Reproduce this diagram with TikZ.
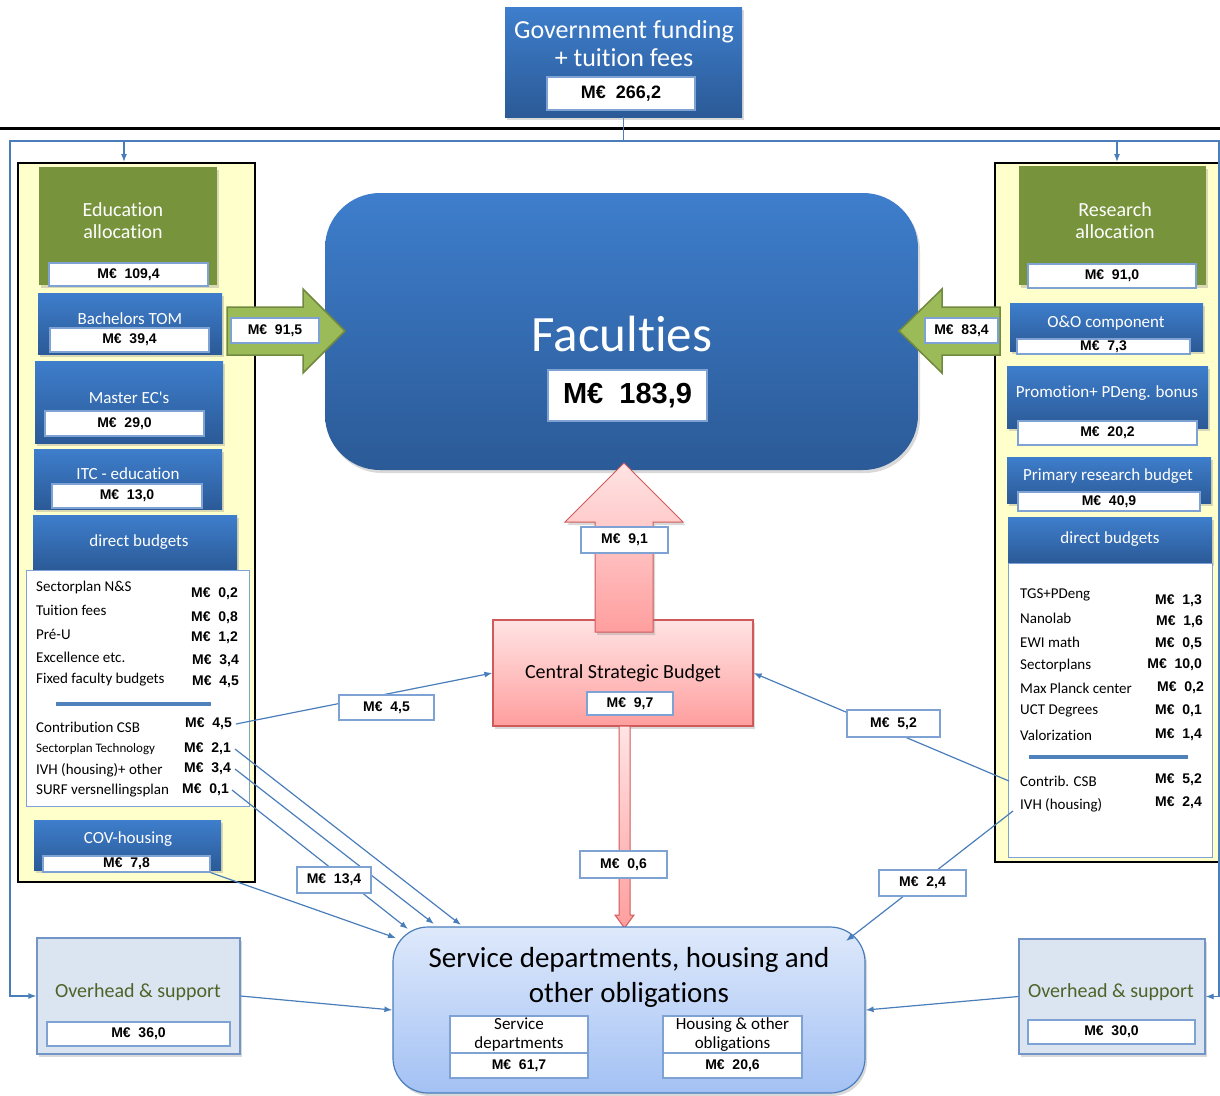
\documentclass[tikz,border=0pt]{standalone}
\usepackage{fontspec}
\setmainfont{Carlito}[Ligatures={NoCommon,NoContextual,TeXOff}]
\newfontfamily\arialfont{Liberation Sans}
\usepackage{tikz}
\usetikzlibrary{arrows.meta,shadows}

\definecolor{blueT}{HTML}{3E7ECC}
\definecolor{blueB}{HTML}{2B5A97}
\definecolor{eduGreen}{HTML}{77933C}
\definecolor{arrGreen}{HTML}{9BBB59}
\definecolor{arrGreenD}{HTML}{71893F}
\definecolor{paleYellow}{HTML}{FFFFCC}
\definecolor{linkBlue}{HTML}{4A7EBB}
\definecolor{valLine}{HTML}{7FA2D4}
\definecolor{ohFill}{HTML}{DBE5F1}
\definecolor{ohLine}{HTML}{7394C6}
\definecolor{ohText}{HTML}{4F6228}
\definecolor{servT}{HTML}{DEE9FB}
\definecolor{servB}{HTML}{A3C1F4}
\definecolor{csbT}{HTML}{FFE4E4}
\definecolor{csbB}{HTML}{FF9E9E}
\definecolor{csbLine}{HTML}{D05A5A}
\definecolor{sepBlue}{HTML}{4F81BD}

\newcommand{\meur}[1]{M€~~#1}
\newcommand{\fs}[2]{\fontsize{#1}{#2}\selectfont}

\begin{document}
\begin{tikzpicture}[x=1pt, y=-1pt,
  shade/.style={drop shadow={opacity=0.3, shadow xshift=2pt, shadow yshift=-3pt}},
  bluebox/.style={top color=blueT, bottom color=blueB, draw=none, inner sep=0pt, shade},
  greenbox/.style={fill=eduGreen, draw=none, inner sep=0pt, shade},
  ybox/.style={fill=paleYellow, draw=black, line width=2pt, inner sep=0pt},
  listbox/.style={fill=white, draw=valLine, line width=1pt, inner sep=0pt},
  valbox/.style={fill=white, draw=valLine, line width=1.2pt, inner sep=0pt,
    font=\arialfont\bfseries\fs{14}{16}},
  subbox/.style={fill=white, draw=valLine, line width=1.2pt, inner sep=0pt,
    align=center, font=\fs{17}{19}},
  boxtitle/.style={text=white, align=center, inner sep=0pt, font=\fs{17}{19}},
  listitem/.style={anchor=west, inner sep=0pt, font=\fs{15}{17}},
  listval/.style={anchor=east, inner sep=0pt, font=\arialfont\bfseries\fs{14}{16}},
  sepline/.style={draw=sepBlue, line width=4pt},
  link/.style={draw=linkBlue, line width=1.2pt, -{Latex[length=8pt,width=6pt]}},
  ohbox/.style={fill=ohFill, draw=ohLine, line width=1.2pt, inner sep=0pt, shade},
  ohtitle/.style={text=ohText, inner sep=0pt, font=\fs{20}{22}}]
  \clip (0,0) rectangle (1220,1095);
  % rule under the funding block
  \draw[black, line width=3pt] (0,128) -- (1220,128);

  % funding source
  \node[bluebox, minimum width=237pt, minimum height=110pt] (gov) at (623.5,62) {};
  \node[boxtitle, font=\fs{26}{28}] (govtxt) at (624,44) {Government funding\\+ tuition fees};
  \node[valbox, minimum width=148pt, minimum height=33pt,
    font=\arialfont\bfseries\fs{18}{20}] (govval) at (621,93.5) {\meur{266,2}};

  % yellow columns
  \node[ybox, minimum width=237pt, minimum height=719pt] (lcol) at (136.5,522.5) {};
  \node[ybox, minimum width=240pt, minimum height=699pt] (rcol) at (1115,512.5) {};

  % funding split: left/right columns and the two overhead blocks
  \coordinate (lsplit) at (124,141);
  \coordinate (rsplit) at (1117,141);

  % ---- education column ----
  \node[greenbox, minimum width=178pt, minimum height=118pt] (edu) at (128,226) {};
  \node[boxtitle, font=\fs{20}{22}] (edutxt) at (123,221) {Education\\allocation};
  \node[valbox, minimum width=159pt, minimum height=23pt] (eduval) at (128.5,274.5) {\meur{109,4}};
  \node[bluebox, minimum width=184pt, minimum height=61pt] (bach) at (130,323.5) {};
  \node[boxtitle] (bachtxt) at (130,319) {Bachelors TOM};
  \node[valbox, minimum width=159pt, minimum height=24pt] (bachval) at (129.5,340) {\meur{39,4}};
  \node[bluebox, minimum width=188pt, minimum height=82pt] (mast) at (129,402) {};
  \node[boxtitle] (masttxt) at (129,398) {Master EC's};
  \node[valbox, minimum width=159pt, minimum height=25pt] (mastval) at (124.5,423.5) {\meur{29,0}};
  \node[bluebox, minimum width=188pt, minimum height=60pt] (itc) at (128,479) {};
  \node[boxtitle] (itctxt) at (128,474) {ITC - education};
  \node[valbox, minimum width=150pt, minimum height=24pt] (itcval) at (127,496) {\meur{13,0}};
  \node[bluebox, minimum width=204pt, minimum height=55pt] (ldir) at (135,542.5) {};
  \node[boxtitle] (ldirtxt) at (139,542) {direct budgets};
  \node[listbox, minimum width=223pt, minimum height=236pt] (llist) at (137.5,688) {};
  \node[listitem] (lsecttxt) at (36,587) {Sectorplan N\&S};
  \node[listval] (lsect) at (238,594) {\meur{0,2}};
  \node[listitem] (ltuittxt) at (36,610) {Tuition fees};
  \node[listval] (ltuit) at (238,618) {\meur{0,8}};
  \node[listitem] (lpreutxt) at (36,634) {Pré-U};
  \node[listval] (lpreu) at (238,638) {\meur{1,2}};
  \node[listitem] (lexctxt) at (36,657) {Excellence etc.};
  \node[listval] (lexc) at (239,661) {\meur{3,4}};
  \node[listitem] (lfixtxt) at (36,680) {Fixed faculty budgets};
  \node[listval] (lfix) at (239,682) {\meur{4,5}};
  \draw[sepline] (56,704) -- (211,704);
  \node[listitem] (lcsbtxt) at (36,727) {Contribution CSB};
  \node[listval] (lcsb) at (232,724) {\meur{4,5}};
  \node[listitem, font=\fs{13}{15}] (lstechtxt) at (36,749) {Sectorplan Technology};
  \node[listval] (lstech) at (231,749) {\meur{2,1}};
  \node[listitem] (livhtxt) at (36,770) {IVH (housing)+ other};
  \node[listval] (livh) at (231,769) {\meur{3,4}};
  \node[listitem] (lsurftxt) at (36,791) {SURF versnellingsplan};
  \node[listval] (lsurf) at (229,790) {\meur{0,1}};
  \node[bluebox, minimum width=187pt, minimum height=50pt] (cov) at (127.5,845) {};
  \node[boxtitle] (covtxt) at (128,839) {COV-housing};
  \node[valbox, minimum width=167pt, minimum height=16pt] (covval) at (126.5,864) {\meur{7,8}};

  % ---- research column ----
  \node[greenbox, minimum width=187pt, minimum height=119pt] (res) at (1112.5,225.5) {};
  \node[boxtitle, font=\fs{20}{22}] (restxt) at (1115,221) {Research\\allocation};
  \node[valbox, minimum width=168pt, minimum height=24pt] (resval) at (1112,276) {\meur{91,0}};
  \node[bluebox, minimum width=193pt, minimum height=48pt] (oo) at (1106.5,327) {};
  \node[boxtitle] (ootxt) at (1106,323) {O\&O component};
  \node[valbox, minimum width=173pt, minimum height=15pt] (ooval) at (1103.5,346.5) {\meur{7,3}};
  \node[bluebox, minimum width=201pt, minimum height=62pt] (prom) at (1107.5,397) {};
  \node[boxtitle] (promtxt) at (1107,393) {Promotion+ PDeng. bonus};
  \node[valbox, minimum width=179pt, minimum height=24pt] (promval) at (1107.5,433) {\meur{20,2}};
  \node[bluebox, minimum width=204pt, minimum height=46pt] (prim) at (1109,480) {};
  \node[boxtitle] (primtxt) at (1108,476) {Primary research budget};
  \node[valbox, minimum width=182pt, minimum height=19pt] (primval) at (1109,501.5) {\meur{40,9}};
  \node[bluebox, minimum width=204pt, minimum height=46pt] (rdir) at (1110,540) {};
  \node[boxtitle] (rdirtxt) at (1110,539) {direct budgets};
  \node[listbox, minimum width=204pt, minimum height=294pt] (rlist) at (1110,710) {};
  \node[listitem] (rtgstxt) at (1020,595) {TGS+PDeng};
  \node[listval] (rtgs) at (1202,601) {\meur{1,3}};
  \node[listitem] (rnanotxt) at (1020,618) {Nanolab};
  \node[listval] (rnano) at (1203,622) {\meur{1,6}};
  \node[listitem] (rewitxt) at (1020,642) {EWI math};
  \node[listval] (rewi) at (1202,644) {\meur{0,5}};
  \node[listitem] (rsecttxt) at (1020,665) {Sectorplans};
  \node[listval] (rsect) at (1202,665) {\meur{10,0}};
  \node[listitem] (rmaxtxt) at (1020,688) {Max Planck center};
  \node[listval] (rmax) at (1204,688) {\meur{0,2}};
  \node[listitem] (ructtxt) at (1020,711) {UCT Degrees};
  \node[listval] (ruct) at (1202,711) {\meur{0,1}};
  \node[listitem] (rvaltxt) at (1020,735) {Valorization};
  \node[listval] (rval) at (1202,735) {\meur{1,4}};
  \draw[sepline] (1029,757) -- (1188,757);
  \node[listitem] (rcsbtxt) at (1020,781) {Contrib. CSB};
  \node[listval] (rcsb) at (1202,780) {\meur{5,2}};
  \node[listitem] (rivhtxt) at (1020,805) {IVH (housing)};
  \node[listval] (rivh) at (1202,803) {\meur{2,4}};

  % ---- faculties ----
  \node[bluebox, rounded corners=55pt, minimum width=593pt, minimum height=277pt] (fac) at (621.5,331.5) {};
  \node[boxtitle, font=\fs{51}{55}] (factxt) at (622,334) {Faculties};
  \node[valbox, minimum width=159pt, minimum height=51pt,
    font=\arialfont\bfseries\fs{29}{31}] (facval) at (627.5,395.5) {\meur{183,9}};

  % green arrows into the faculties
  \draw[fill=arrGreen, draw=arrGreenD, line width=1.5pt]
    (227,307) -- (303,307) -- (303,289) -- (345,331) -- (303,373) -- (303,355) -- (227,355) -- cycle;
  \draw[fill=arrGreen, draw=arrGreenD, line width=1.5pt]
    (1000,307) -- (942,307) -- (942,289) -- (899,331) -- (942,373) -- (942,355) -- (1000,355) -- cycle;
  \node[valbox, minimum width=88pt, minimum height=25pt] (eduflow) at (275,330.5) {\meur{91,5}};
  \node[valbox, minimum width=73pt, minimum height=25pt] (resflow) at (961.5,330.5) {\meur{83,4}};

  % ---- central strategic budget ----
  \node[top color=csbT, bottom color=csbB, draw=csbLine, line width=1.2pt, inner sep=0pt, shade,
    minimum width=260pt, minimum height=106pt] (csb) at (623,673) {};
  \node[inner sep=0pt, font=\fs{20}{22}] (csbtxt) at (623,673) {Central Strategic Budget};
  \node[valbox, minimum width=86pt, minimum height=23pt] (csbval) at (630,703.5) {\meur{9,7}};
  % pink arrows up to faculties and down to services
  \draw[top color=csbT, bottom color=csbB, draw=csbLine, line width=1pt, shade]
    (595,632) -- (595,522) -- (565,522) -- (624,463) -- (683,522) -- (653,522) -- (653,632) -- cycle;
  \draw[top color=csbT, bottom color=csbB, draw=csbLine, line width=1pt]
    (619,726) -- (619,915) -- (615,915) -- (624.5,928) -- (634,915) -- (630,915) -- (630,726) -- cycle;

  % ---- service departments ----
  \node[top color=servT, bottom color=servB, draw=linkBlue, line width=1.2pt, inner sep=0pt,
    rounded corners=35pt, shade, minimum width=472pt, minimum height=166pt] (serv) at (629,1010) {};
  \node[inner sep=0pt, align=center, font=\fs{29}{35}] (servtxt) at (629,977) {Service departments, housing and\\other obligations};
  \node[subbox, minimum width=138pt, minimum height=37pt] (svcdep) at (519,1034.5) {Service\\departments};
  \node[valbox, minimum width=138pt, minimum height=25pt] (svcval) at (519,1065.5) {\meur{61,7}};
  \node[subbox, minimum width=139pt, minimum height=37pt] (svchou) at (732.5,1034.5) {Housing \& other\\obligations};
  \node[valbox, minimum width=139pt, minimum height=25pt] (svchval) at (732.5,1065.5) {\meur{20,6}};

  % ---- overhead blocks ----
  \node[ohbox, minimum width=203pt, minimum height=116pt] (ohl) at (138.5,996) {};
  \node[ohtitle] (ohltxt) at (138,992) {Overhead \& support};
  \node[valbox, minimum width=183pt, minimum height=24pt] (ohlval) at (138.5,1034) {\meur{36,0}};
  \node[ohbox, minimum width=186pt, minimum height=115pt] (ohr) at (1112,996.5) {};
  \node[ohtitle] (ohrtxt) at (1111,992) {Overhead \& support};
  \node[valbox, minimum width=167pt, minimum height=24pt] (ohrval) at (1111.5,1032) {\meur{30,0}};

  % funding connectors
  \draw[link] (gov.south) |- (10,141) |- (ohl.west);
  \draw[link] (gov.south) |- (1219,141) |- (ohr.east);
  \draw[link] (lsplit) -- (lsplit |- lcol.north);
  \draw[link] (rsplit) -- (rsplit |- rcol.north);

  % free ends of the flows (list edges and service corner)
  \coordinate (rcsbend) at (1009,781);
  \coordinate (rivhend) at (1013,811);
  \coordinate (sA) at (396,938);
  \coordinate (sB) at (408,929);
  \coordinate (sC) at (434,924);
  \coordinate (sD) at (461,925);
  \coordinate (sNE) at (846,941);

  % flows into the central strategic budget and the services
  \draw[link] ([xshift=4pt]lcsb.east) -- (csb.west);
  \draw[link] (rcsbend) -- (csb.east);
  \draw[link] (rivhend) -- (sNE);
  \draw[link] ([xshift=4pt]lstech.east) -- (sD);
  \draw[link] ([xshift=4pt]livh.east) -- (sC);
  \draw[link] ([xshift=3pt]lsurf.east) -- (sB);
  \draw[link] (covval.south east) -- (sA);
  \draw[link] (ohl.east) -- (serv.west);
  \draw[link] (ohr.west) -- (serv.east);

  % amounts on the flows
  \node[valbox, minimum width=95pt, minimum height=25pt] (csbin1) at (386.5,707.5) {\meur{4,5}};
  \node[valbox, minimum width=93pt, minimum height=27pt] (csbin2) at (893.5,723.5) {\meur{5,2}};
  \node[valbox, minimum width=87pt, minimum height=26pt] (servin1) at (922.5,883) {\meur{2,4}};
  \node[valbox, minimum width=74pt, minimum height=26pt] (servin2) at (334,880) {\meur{13,4}};
  \node[valbox, minimum width=87pt, minimum height=26pt] (csbup) at (624.5,540) {\meur{9,1}};
  \node[valbox, minimum width=87pt, minimum height=27pt] (csbdown) at (623.5,864.5) {\meur{0,6}};
\end{tikzpicture}
\end{document}
